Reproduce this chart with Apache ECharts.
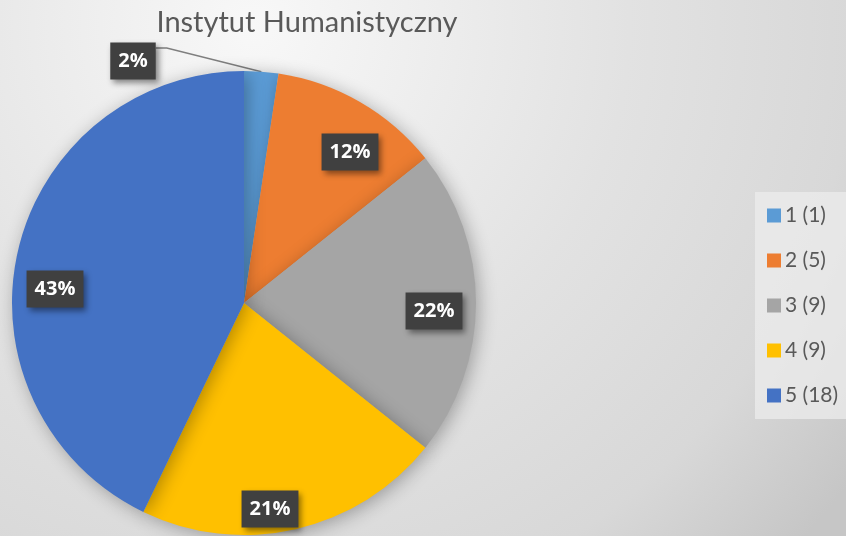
<!DOCTYPE html>
<html>
<head>
<meta charset="utf-8">
<script src="https://cdn.jsdelivr.net/npm/echarts@6/dist/echarts.min.js"></script>
<style>
  html, body { margin: 0; padding: 0; }
  #chart { width: 846px; height: 536px; }
</style>
</head>
<body>
<div id="chart"></div>
<script>
// grades 1..5 and how many answers each got
var grades = ['1', '2', '3', '4', '5'];
var counts = [1, 5, 9, 9, 18];
var colors = ['#5b9bd5', '#ed7d31', '#a5a5a5', '#ffc000', '#4472c4'];

// where Excel's "best fit" put the labels (pixel spots, layout only)
var labelSpots = [[133, 61], [350, 152], [434, 311], [270, 509], [55, 289]];

var pieCenter = [244, 303];
var pieRadius = 232;

var myChart = echarts.init(document.getElementById('chart'));

var pieData = [];
for (var i = 0; i < grades.length; i++) {
  var item = {
    name: grades[i] + ' (' + counts[i] + ')',
    value: counts[i],
    itemStyle: { color: colors[i] }
  };
  if (i === 0) {
    item.label = { position: 'outside' };
    item.labelLine = { show: true };
  }
  pieData.push(item);
}

// point on the rim in the middle of slice idx, for the leader line
function rimPoint(idx) {
  var total = 0, before = 0;
  for (var i = 0; i < counts.length; i++) {
    total += counts[i];
    if (i < idx) before += counts[i];
  }
  var a = (before + counts[idx] / 2) / total * Math.PI * 2;
  return [pieCenter[0] + pieRadius * Math.sin(a), pieCenter[1] - pieRadius * Math.cos(a)];
}

var option = {
  backgroundColor: new echarts.graphic.RadialGradient(0.3, 0.05, 1.4, [
    { offset: 0, color: '#f8f8f8' },
    { offset: 0.5, color: '#e2e2e2' },
    { offset: 0.8, color: '#d8d8d8' },
    { offset: 1, color: '#c6c6c6' }
  ]),
  animation: false,
  title: {
    text: 'Instytut Humanistyczny',
    left: 302,
    top: 3,
    textAlign: 'center',
    textStyle: {
      fontFamily: 'Lato',
      fontWeight: 'normal',
      fontSize: 29,
      color: '#595959'
    }
  },
  legend: {
    orient: 'vertical',
    left: 755,
    top: 192,
    padding: [13, 12, 13, 12],
    backgroundColor: 'rgba(236,236,236,0.75)',
    icon: 'rect',
    itemWidth: 14,
    itemHeight: 14,
    itemGap: 24,
    textStyle: {
      fontFamily: 'Lato',
      fontSize: 21,
      lineHeight: 21,
      color: '#595959',
      padding: [0, 0, 0, -1]
    }
  },
  series: [
    {
      type: 'pie',
      center: pieCenter,
      radius: pieRadius,
      startAngle: 90,
      clockwise: true,
      percentPrecision: 0,
      data: pieData,
      itemStyle: {
        shadowBlur: 18,
        shadowColor: 'rgba(0,0,0,0.3)',
        shadowOffsetX: 3,
        shadowOffsetY: 3
      },
      emphasis: { disabled: true },
      label: {
        show: true,
        position: 'inside',
        formatter: '{d}%',
        fontFamily: 'Open Sans',
        fontWeight: 'bold',
        fontSize: 20,
        color: '#ffffff',
        backgroundColor: '#404040',
        padding: [9, 8, 8, 8],
        shadowBlur: 6,
        shadowColor: 'rgba(0,0,0,0.45)',
        shadowOffsetX: 3,
        shadowOffsetY: 3
      },
      labelLine: {
        show: false,
        length: 10,
        length2: 10,
        lineStyle: { color: '#7f7f7f', width: 1.5 }
      },
      labelLayout: function (params) {
        var spot = labelSpots[params.dataIndex];
        var res = {
          x: spot[0],
          y: spot[1],
          align: 'center',
          verticalAlign: 'middle'
        };
        if (params.dataIndex === 0) {
          var rim = rimPoint(0);
          var edgeX = spot[0] + params.labelRect.width / 2;
          var lineY = spot[1] - 13;
          res.labelLinePoints = [rim, [edgeX + 11, lineY], [edgeX, lineY]];
        }
        return res;
      }
    }
  ]
};

myChart.setOption(option);
</script>
</body>
</html>
